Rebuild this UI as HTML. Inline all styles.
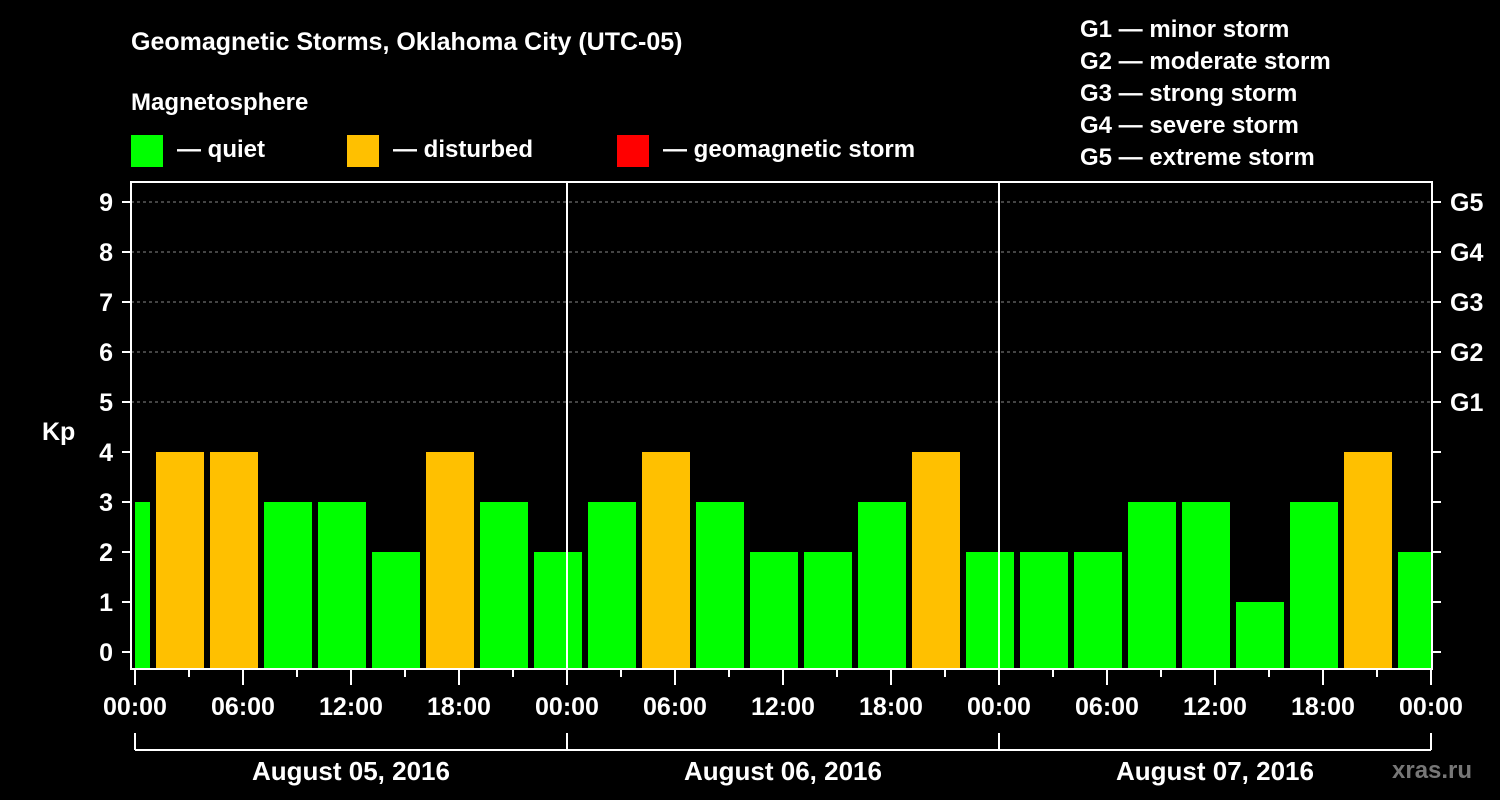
<!DOCTYPE html>
<html><head><meta charset="utf-8"><style>
html,body{margin:0;padding:0;background:#000;width:1500px;height:800px;overflow:hidden}
svg text{font-family:"Liberation Sans",sans-serif;font-weight:bold;fill:#fff}
</style></head><body>
<svg id="chart" width="1500" height="800" xmlns="http://www.w3.org/2000/svg">
<text x="131" y="50" font-size="25">Geomagnetic Storms, Oklahoma City (UTC-05)</text>
<text x="131" y="110" font-size="24">Magnetosphere</text>
<g><rect x="131" y="135" width="32" height="32" fill="#00ff00"/><text x="177" y="157" font-size="24">— quiet</text></g>
<g><rect x="347" y="135" width="32" height="32" fill="#ffc000"/><text x="393" y="157" font-size="24">— disturbed</text></g>
<g><rect x="617" y="135" width="32" height="32" fill="#ff0000"/><text x="663" y="157" font-size="24">— geomagnetic storm</text></g>
<g font-size="24">
<text x="1080" y="37">G1 — minor storm</text><text x="1080" y="69">G2 — moderate storm</text><text x="1080" y="101">G3 — strong storm</text><text x="1080" y="133">G4 — severe storm</text><text x="1080" y="165">G5 — extreme storm</text>
</g>
<text x="42" y="440" font-size="25">Kp</text>
<text x="1392" y="778" font-size="24" fill="#777" style="fill:#777">xras.ru</text>
<g id="grid"></g><g id="bars"></g><g id="axes"></g>
</svg>
<script>
const values=[3,4,4,3,3,2,4,3,2,3,4,3,2,2,3,4,2,2,2,3,3,1,3,4,2];
const kpTicks=[0,1,2,3,4,5,6,7,8,9];
const gLabels=["G1","G2","G3","G4","G5"];
const hourLabels=["00:00","06:00","12:00","18:00"];
const dayLabels=["August 05, 2016","August 06, 2016","August 07, 2016"];
const NS="http://www.w3.org/2000/svg";
const X0=135,HX=18,X1=1431,Y0=652,KY=50,TOP=182,BOT=669;
const x=h=>X0+h*HX, y=v=>Y0-v*KY;
function mk(t,a,p){const e=document.createElementNS(NS,t);for(const k in a)e.setAttribute(k,a[k]);p.appendChild(e);return e;}
const grid=document.getElementById('grid'),bars=document.getElementById('bars'),axes=document.getElementById('axes');
for(let v=5;v<=9;v++){const l=mk('line',{x1:X0-4,x2:X1,y1:y(v),y2:y(v),stroke:'#888','stroke-dasharray':'3,3'},grid);

}
values.forEach((v,i)=>{const c=(i*3-0.5);let l=x(c)-24,r=x(c)+24;l=Math.max(l,X0);r=Math.min(r,X1);
const b=mk('rect',{x:l,y:y(v),width:r-l,height:BOT-y(v),fill:v>=5?'#ff0000':(v>=4?'#ffc000':'#00ff00')},bars);

});
mk('rect',{x:131,y:TOP,width:1301,height:BOT-TOP,fill:'none',stroke:'#fff','stroke-width':2},axes);
[1,2].forEach(d=>{mk('line',{x1:x(24*d),x2:x(24*d),y1:TOP,y2:BOT,stroke:'#fff','stroke-width':2},axes);});
kpTicks.forEach(v=>{mk('line',{x1:122,x2:131,y1:y(v),y2:y(v),stroke:'#fff','stroke-width':2},axes);
mk('line',{x1:1432,x2:1441,y1:y(v),y2:y(v),stroke:'#fff','stroke-width':2},axes);
const t=mk('text',{x:113,y:y(v)+9,'font-size':25,'text-anchor':'end'},axes);t.textContent=v;

});
gLabels.forEach((g,i)=>{const t=mk('text',{x:1450,y:y(5+i)+9,'font-size':25},axes);t.textContent=g;

});
for(let h=0;h<=72;h+=3){const major=h%6==0;mk('line',{x1:x(h),x2:x(h),y1:BOT,y2:major?685:677,stroke:'#fff','stroke-width':2},axes);
if(major){const t=mk('text',{x:x(h),y:715,'font-size':25,'text-anchor':'middle'},axes);t.textContent=hourLabels[(h/6)%4];

}}
mk('line',{x1:x(0),x2:x(72),y1:750,y2:750,stroke:'#fff','stroke-width':2},axes);
for(let d=0;d<=3;d++)mk('line',{x1:x(24*d),x2:x(24*d),y1:733,y2:750,stroke:'#fff','stroke-width':2},axes);
dayLabels.forEach((s,d)=>{const t=mk('text',{x:x(24*d+12),y:780,'font-size':26,'text-anchor':'middle'},axes);t.textContent=s;

});
</script>
</body></html>
